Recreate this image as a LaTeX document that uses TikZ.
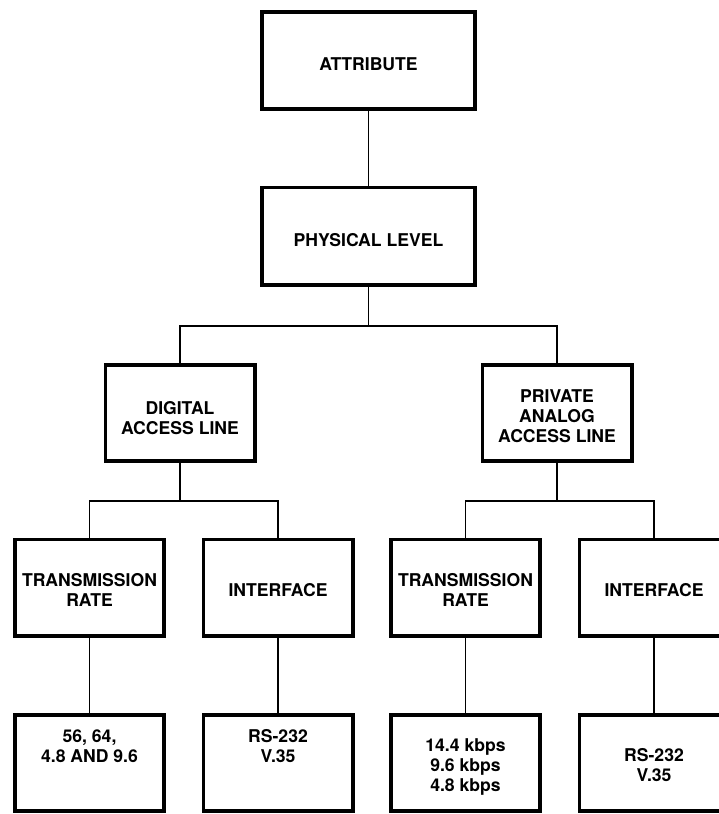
\documentclass[tikz,border=0pt]{standalone}
\usepackage{fontspec}
\setmainfont{TeX Gyre Heros}
\begin{document}
\begin{tikzpicture}[x=1pt,y=-1pt,
  box/.style={draw, line width=3.6pt, inner sep=0pt, minimum width=149.4pt, minimum height=96.4pt},
  widebox/.style={box, minimum width=213.4pt, minimum height=97.4pt},
  lbl/.style={font=\bfseries\fontsize{17.6}{20}\selectfont, align=center, inner sep=0pt},
  link/.style={line width=1.6pt}]
\fill[white] (0,0) rectangle (719,814);
\useasboundingbox (0,0) rectangle (719,814);

% frames
\node[widebox] (attr) at (368.5,60.5) {};
\node[widebox] (phys) at (368.5,236) {};
\node[box] (dig)  at (180,413) {};
\node[box] (priv) at (557,413) {};
\node[box] (tr1)  at (89.5,587.5) {};
\node[box] (if1)  at (278,587.5) {};
\node[box] (tr2)  at (465.5,587.5) {};
\node[box] (if2)  at (654,587.5) {};
\node[box] (v1)   at (89.5,763) {};
\node[box] (v2)   at (278,763) {};
\node[box] (v3)   at (465.5,763) {};
\node[box] (v4)   at (654,763) {};

% labels
\node[lbl] (attrT) at (368.5,64) {ATTRIBUTE};
\node[lbl] (physT) at (368.5,240) {PHYSICAL LEVEL};
\node[lbl] (digT)  at (180,418) {DIGITAL\\ACCESS LINE};
\node[lbl] (privT) at (557,416) {PRIVATE\\ANALOG\\ACCESS LINE};
\node[lbl] (tr1T)  at (89.5,590) {TRANSMISSION\\RATE};
\node[lbl] (if1T)  at (278,590) {INTERFACE};
\node[lbl] (tr2T)  at (465.5,590) {TRANSMISSION\\RATE};
\node[lbl] (if2T)  at (654,590) {INTERFACE};
\node[lbl] (v1T)   at (89.5,746) {56, 64,\\4.8 AND 9.6};
\node[lbl] (v2T)   at (278,746) {RS-232\\V.35};
\node[lbl] (v3T)   at (465.5,767) {14.4 kbps\\9.6 kbps\\4.8 kbps};
\node[lbl] (v4T)   at (654,765) {RS-232\\V.35};

% branch points
\coordinate (j0) at (368.5,326);
\coordinate (j1) at (180,501);
\coordinate (j2) at (557,501);

% connectors
\draw[link] (attr.south) -- (phys.north);
\draw[link] (phys.south) -- (j0);
\draw[link] (dig.north) |- (j0) -| (priv.north);
\draw[link] (dig.south) -- (j1);
\draw[link] (tr1.north) |- (j1) -| (if1.north);
\draw[link] (priv.south) -- (j2);
\draw[link] (tr2.north) |- (j2) -| (if2.north);
\draw[link] (tr1.south) -- (v1.north);
\draw[link] (if1.south) -- (v2.north);
\draw[link] (tr2.south) -- (v3.north);
\draw[link] (if2.south) -- (v4.north);
\end{tikzpicture}
\end{document}
